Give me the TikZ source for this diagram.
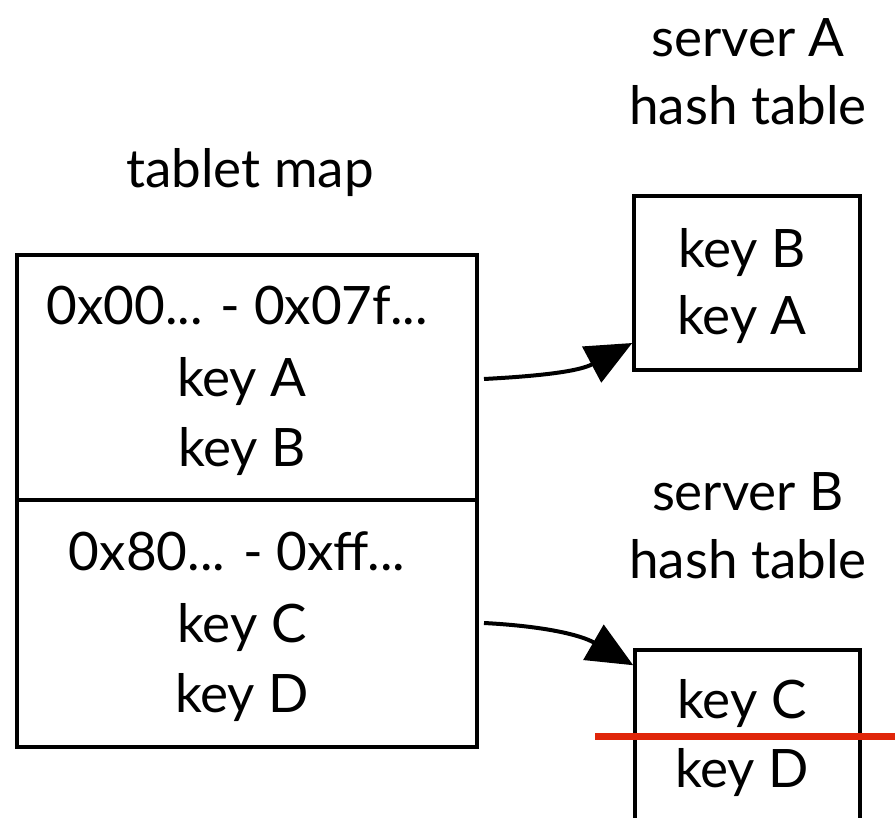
\documentclass[tikz,border=0pt]{standalone}
\usepackage{fontspec}
\setmainfont{Lato}
\usetikzlibrary{arrows.meta}
\tikzset{
  frame/.style={draw=black, line width=3.5pt, minimum width=#1, inner sep=0pt},
  label/.style={anchor=base, font=\fontsize{53}{53}\selectfont, inner sep=0pt},
  conn/.style={line width=4pt, -{Triangle[length=46pt, width=40pt]}},
  cut/.style={draw={rgb,255:red,224;green,38;blue,10}, line width=7pt}
}
\begin{document}
\begin{tikzpicture}[x=1pt, y=-1pt]
  \useasboundingbox (0,0) rectangle (895,818);
  \clip (0,0) rectangle (895,818);

  % tablet map: two ranges stacked in one column
  \node[frame=460pt, minimum height=245pt] (r1) at (247,377.5) {};
  \node[frame=460pt, minimum height=247pt] (r2) at (247,623.5) {};
  \node[label] (tm) at (250,188) {tablet map};
  \node[label] (r1a) at (237,325) {0x00... - 0x07f...};
  \node[label] (r1b) at (242,397) {key A};
  \node[label] (r1c) at (242,467) {key B};
  \node[label] (r2a) at (237,570) {0x80... - 0xff...};
  \node[label] (r2b) at (242,642) {key C};
  \node[label] (r2c) at (242,712) {key D};

  % server A hash table
  \node[label] (sat1) at (748,57) {server A};
  \node[label] (sat2) at (748,125) {hash table};
  \node[frame=226pt, minimum height=174pt] (sa) at (747,283) {};
  \node[label] (sa1) at (742,268) {key B};
  \node[label] (sa2) at (742,335) {key A};

  % server B hash table (runs past the bottom edge)
  \node[label] (sbt1) at (748,510) {server B};
  \node[label] (sbt2) at (748,578) {hash table};
  \node[frame=225pt, minimum height=180pt] (sb) at (747.5,740) {};
  \node[label] (sb1) at (742,718) {key C};
  \node[label] (sb2) at (742,787) {key D};

  % split line through server B
  \coordinate (cutL) at (595,736);
  \coordinate (cutR) at (895,736);
  \draw[cut] (cutL) -- (cutR);

  % ownership arrows
  \coordinate (s1) at (484,379);
  \coordinate (s2) at (484,623);
  \draw[conn] (s1) to[out=3, in=208] ([yshift=-60pt]sa.west);
  \draw[conn] (s2) to[out=-3, in=150] ([yshift=-17pt]sb.north west);
\end{tikzpicture}
\end{document}
